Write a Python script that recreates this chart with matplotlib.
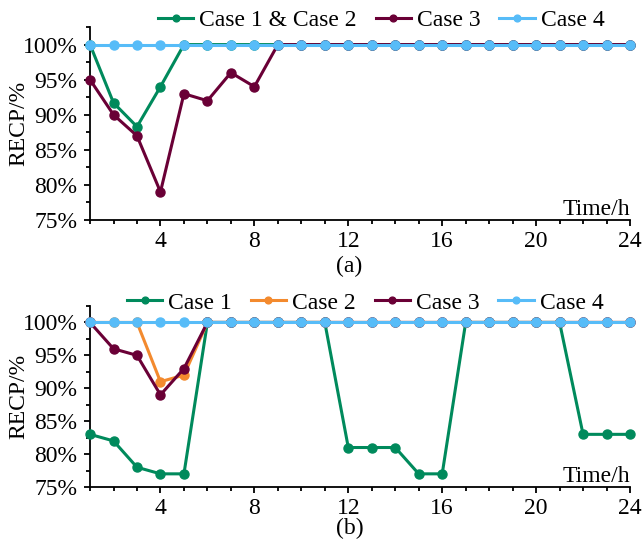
import matplotlib
matplotlib.use("Agg")
import matplotlib.pyplot as plt
from matplotlib.ticker import MultipleLocator, FuncFormatter

plt.rcParams['font.family'] = 'serif'
plt.rcParams['font.serif'] = ['Liberation Serif']

hours = list(range(1, 25))

# Panel (a)
a_case12 = [100, 91.7, 88.3, 94, 100] + [100] * 19
a_case3 = [95, 90, 87, 79, 93, 92, 96, 94, 100] + [100] * 15
a_case4 = [100] * 24

# Panel (b)
b_case1 = [83, 82, 78, 77, 77, 100, 100, 100, 100, 100, 100, 81, 81, 81, 77, 77,
           100, 100, 100, 100, 100, 83, 83, 83]
b_case2 = [100, 100, 100, 91, 92] + [100] * 19
b_case3 = [100, 96, 95, 89, 93] + [100] * 19
b_case4 = [100] * 24

xticks = [4, 8, 12, 16, 20, 24]
yticks = [75, 80, 85, 90, 95, 100]

C_GREEN = '#008A5C'
C_ORANGE = '#F38A2E'
C_MAROON = '#6A0036'
C_BLUE = '#57BCF8'
FONT = 'Liberation Serif'

fig = plt.figure(figsize=(6.44, 5.41), dpi=100)
ax1 = fig.add_axes([0.1398, 0.5933, 0.8385, 0.3567])
ax2 = fig.add_axes([0.1398, 0.0998, 0.8385, 0.3346])

lw = 2.2
ms = 6.5

def style(ax):
    ax.set_xlim(1, 24)
    ax.set_ylim(75, 102.5)
    ax.spines['top'].set_visible(False)
    ax.spines['right'].set_visible(False)
    ax.spines['left'].set_linewidth(1.3)
    ax.spines['bottom'].set_linewidth(1.3)
    ax.set_xticks(xticks)
    ax.xaxis.set_minor_locator(MultipleLocator(1))
    ax.set_yticks(yticks)
    ax.yaxis.set_minor_locator(MultipleLocator(2.5))
    ax.yaxis.set_major_formatter(FuncFormatter(lambda v, p: f"{int(round(v))}%"))
    ax.tick_params(which='major', direction='out', length=4, width=1.3, labelsize=17)
    ax.tick_params(axis='y', which='major', pad=5)
    ax.tick_params(axis='x', which='major', pad=4)
    ax.tick_params(which='minor', direction='out', length=3, width=1.3)
    for lab in ax.get_xticklabels() + ax.get_yticklabels():
        lab.set_fontfamily(FONT)
    ax.set_ylabel('RECP/%', fontsize=17, family=FONT)
    ax.yaxis.set_label_coords(-0.113, 0.5)
    ax.annotate('Time/h', xy=(1.0, 0.0), xycoords='axes fraction',
                xytext=(0, 3.6), textcoords='offset points',
                ha='right', va='baseline', fontsize=17, family=FONT)

kw = dict(marker='o', linewidth=lw, markersize=ms, clip_on=False)
ax1.plot(hours, a_case12, color=C_GREEN, label='Case 1 & Case 2', zorder=3, **kw)
ax1.plot(hours, a_case3, color=C_MAROON, label='Case 3', zorder=4, **kw)
ax1.plot(hours, a_case4, color=C_BLUE, label='Case 4', zorder=5, **kw)
style(ax1)

ax2.plot(hours, b_case1, color=C_GREEN, label='Case 1', zorder=3, **kw)
ax2.plot(hours, b_case2, color=C_ORANGE, label='Case 2', zorder=4, **kw)
ax2.plot(hours, b_case3, color=C_MAROON, label='Case 3', zorder=5, **kw)
ax2.plot(hours, b_case4, color=C_BLUE, label='Case 4', zorder=6, **kw)
style(ax2)

leg_kw = dict(loc='center', ncol=4, frameon=False, handlelength=1.5,
              handletextpad=0.25, columnspacing=0.8, markerscale=0.75, borderpad=0,
              prop={'family': FONT, 'size': 17})
fig.legend(handles=ax1.get_lines(), bbox_to_anchor=(0.592, 0.963), **leg_kw)
fig.legend(handles=ax2.get_lines(), bbox_to_anchor=(0.567, 0.44), **leg_kw)

fig.text(0.542, 0.507, '(a)', ha='center', va='center', fontsize=17, family=FONT)
fig.text(0.543, 0.024, '(b)', ha='center', va='center', fontsize=17, family=FONT)

fig.savefig('out.png', dpi=100)
